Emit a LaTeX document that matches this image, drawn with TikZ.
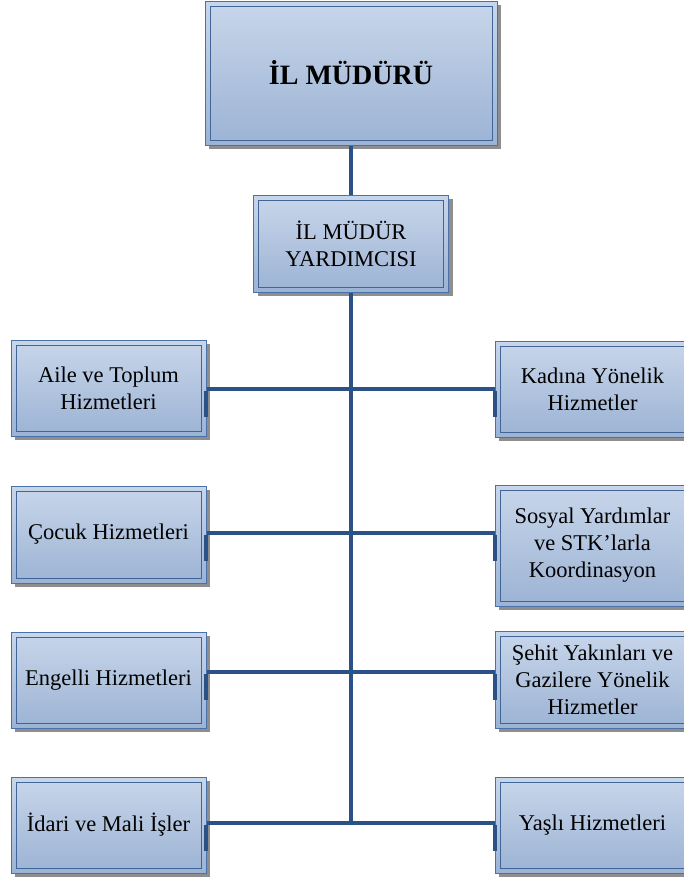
\documentclass[tikz,border=0pt]{standalone}
\usepackage{fontspec}
\setmainfont{Liberation Serif}
\usetikzlibrary{shadows,calc}
\definecolor{boxtop}{HTML}{C8D6EA}
\definecolor{boxbot}{HTML}{9CB3D4}
\definecolor{boxline}{HTML}{4A72A8}
\definecolor{innerline}{HTML}{3F6599}
\definecolor{shadowc}{HTML}{8E8E8E}
\definecolor{linkc}{HTML}{2B5286}
\tikzset{
  orgbox/.style={draw=boxline, line width=1pt, top color=boxtop, bottom color=boxbot,
    align=center, inner sep=0pt, font=\fontsize{22.5}{27}\selectfont,
    drop shadow={shadow xshift=4pt, shadow yshift=-4pt, fill=shadowc, opacity=1},
    path picture={\draw[innerline, line width=0.9pt]
      ([shift={(5pt,-5pt)}]path picture bounding box.north west) rectangle
      ([shift={(-5pt,5pt)}]path picture bounding box.south east);}},
  link/.style={draw=linkc, line width=3.2pt},
  tickmark/.style={draw=linkc, line width=3.6pt}
}
\begin{document}
\begin{tikzpicture}[x=1pt,y=-1pt]
\useasboundingbox (0,0) rectangle (684,881);
% boxes
\node[orgbox, minimum width=292pt, minimum height=144pt, font=\fontsize{28}{33}\selectfont\bfseries] (top) at (351,73) {İL MÜDÜRÜ};
\node[orgbox, minimum width=195pt, minimum height=97pt] (dep) at (351,243.5) {İL MÜDÜR\\YARDIMCISI};
\node[orgbox, minimum width=195pt, minimum height=96pt] (aile) at (108.5,388) {Aile ve Toplum\\Hizmetleri};
\node[orgbox, minimum width=195pt, minimum height=97pt] (cocuk) at (108.5,534.5) {Çocuk Hizmetleri};
\node[orgbox, minimum width=195pt, minimum height=96pt] (engelli) at (108.5,680) {Engelli Hizmetleri};
\node[orgbox, minimum width=195pt, minimum height=96pt] (idari) at (108.5,825) {İdari ve Mali İşler};
\node[orgbox, minimum width=195pt, minimum height=96pt] (kadin) at (592.5,389) {Kadına Yönelik\\Hizmetler};
\node[orgbox, minimum width=195pt, minimum height=121pt] (sosyal) at (592.5,545.5) {Sosyal Yardımlar\\ve STK’larla\\Koordinasyon};
\node[orgbox, minimum width=195pt, minimum height=97pt] (sehit) at (592.5,679.5) {Şehit Yakınları ve\\Gazilere Yönelik\\Hizmetler};
\node[orgbox, minimum width=195pt, minimum height=96pt] (yasli) at (592.5,825) {Yaşlı Hizmetleri};
% junctions on the trunk
\coordinate (j1) at (351,389);
\coordinate (j2) at (351,533);
\coordinate (j3) at (351,672);
\coordinate (j4) at (351,823);
% connectors
\draw[link] (top.south) -- (dep.north);
\draw[link] (dep.south) -- ([yshift=1.6pt]j4);
\draw[link] (aile.east |- j1) -- (kadin.west |- j1);
\draw[link] (cocuk.east |- j2) -- (sosyal.west |- j2);
\draw[link] (engelli.east |- j3) -- (sehit.west |- j3);
\draw[link] (idari.east |- j4) -- (yasli.west |- j4);
% ticks at box edges
\foreach \b/\j in {aile/j1,cocuk/j2,engelli/j3,idari/j4}
  \draw[tickmark] ([xshift=-0.5pt,yshift=-1.6pt]\b.east |- \j) -- ++(0,26);
\foreach \b/\j in {kadin/j1,sosyal/j2,sehit/j3,yasli/j4}
  \draw[tickmark] ([xshift=0.5pt,yshift=-1.6pt]\b.west |- \j) -- ++(0,26);
\end{tikzpicture}
\end{document}
